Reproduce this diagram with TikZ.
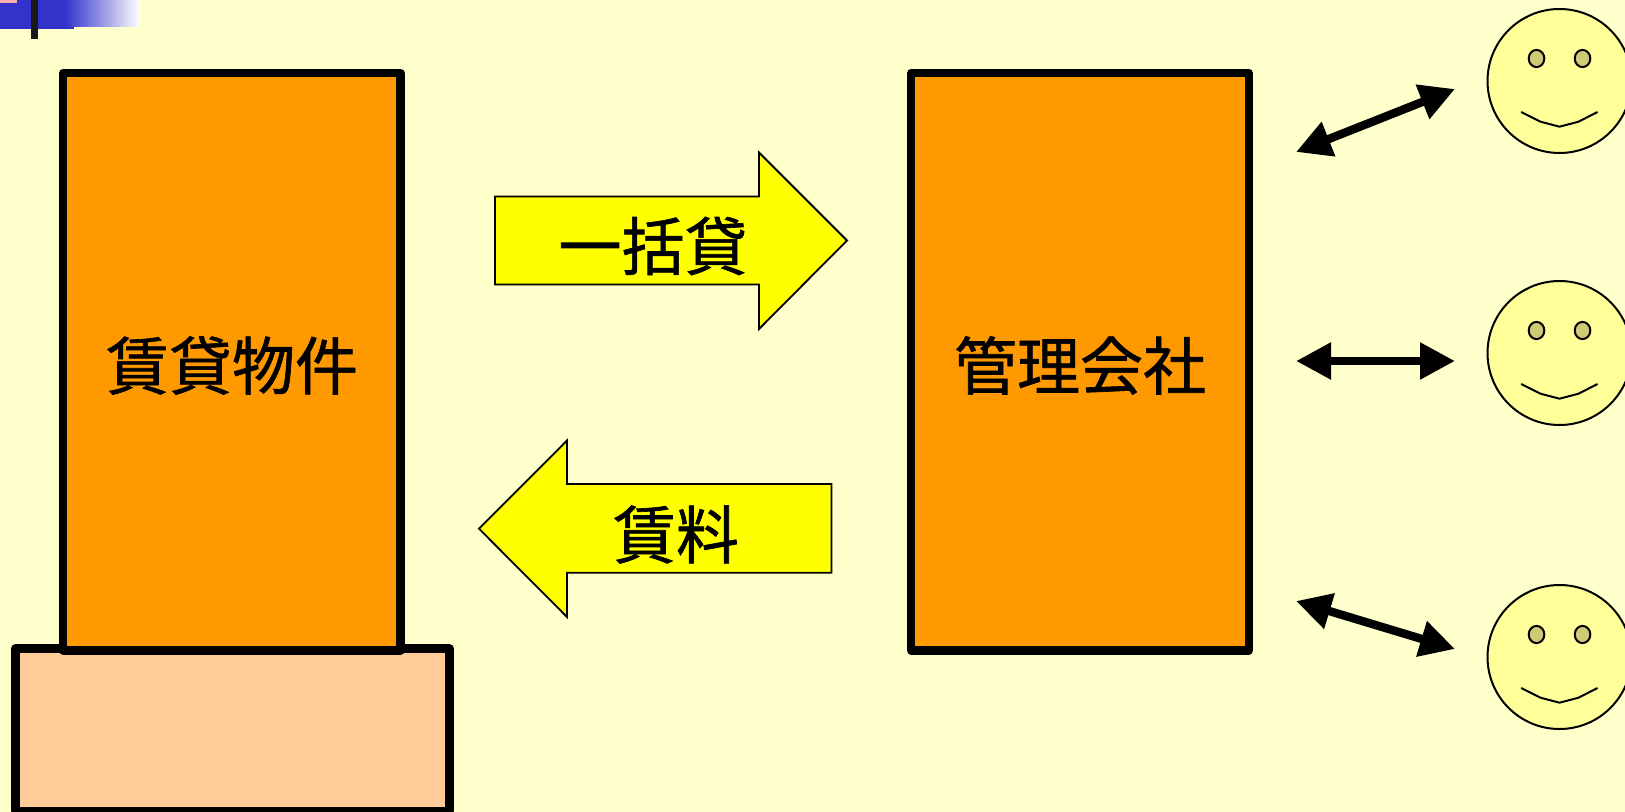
\documentclass[tikz,border=0pt]{standalone}
\usepackage{fontspec}
\setmainfont{Noto Sans CJK JP}[FakeBold=1]
\usetikzlibrary{arrows.meta,shapes.geometric}
\definecolor{pagebg}{HTML}{FFFFCC}
\definecolor{boxorange}{HTML}{FF9900}
\definecolor{basepeach}{HTML}{FFCC99}
\definecolor{arrowyellow}{HTML}{FFFF00}
\definecolor{facefill}{HTML}{FFFF99}
\definecolor{eyefill}{HTML}{CCCC77}
\definecolor{tabblue}{HTML}{3333CC}
\tikzset{
    bigbox/.style={draw, line width=4.1pt, line join=round, fill=boxorange, inner sep=0pt},
    blockarrow/.style={draw=black, line width=.9pt, fill=arrowyellow},
    arrowlabel/.style={font=\fontsize{31.5}{36}\selectfont, inner sep=0pt},
    tenantarrow/.style={{Triangle[length=17.5pt,width=17.5pt]}-{Triangle[length=17.5pt,width=17.5pt]}, line width=4.2pt},
    faceline/.style={draw=black, line width=1pt}
}
\begin{document}
\begin{tikzpicture}[x=.5pt,y=-.5pt]
    \clip (0,0) rectangle (1625,812);
    \fill[pagebg] (0,0) rectangle (1625,812);

    % corner tab
    \fill[tabblue] (0,0) rectangle (74,29);
    \shade[left color=tabblue, right color=white] (65,0) rectangle (140,27);
    \fill[pink!90!red] (0,0) rectangle (17,3);
    \fill[black!90] (31,0) rectangle (38,39);

    % building and company
    \node [bigbox, fill=basepeach, minimum width=217pt, minimum height=81.2pt] (base) at (232.5,729.7){};
    \node [bigbox, minimum width=168.7pt, minimum height=288.7pt] (building) at (231.8,361.7){};
    \node [bigbox, minimum width=168.7pt, minimum height=288.7pt] (company) at (1080,361.7){};
    \node [arrowlabel] (buildinglabel) at (232,365.5) {賃貸物件};
    \node [arrowlabel] (companylabel) at (1080,365.5) {管理会社};

    % block arrows
    \draw[blockarrow] (495,196.5)--(759,196.5)--(759,152.5)--(847,240.5)--(759,329)--(759,284.5)--(495,284.5)--cycle;
    \draw[blockarrow] (831.5,484)--(567,484)--(567,440.5)--(479,528.7)--(567,617)--(567,572.7)--(831.5,572.7)--cycle;
    \node [arrowlabel] (lease) at (653,246) {一括貸};
    \node [arrowlabel] (rent) at (676,534.5) {賃料};

    % tenants
    \foreach \name/\y in {faceA/81, faceB/353, faceC/657}{
        \begin{scope}[shift={(1559.5,\y)}]
            \node [faceline, circle, fill=facefill, minimum size=72pt, inner sep=0pt] (\name) at (0,0){};
            \node [faceline, ellipse, fill=eyefill, minimum width=7.8pt, minimum height=8.6pt, inner sep=0pt] (\name L) at (-23,-22.5){};
            \node [faceline, ellipse, fill=eyefill, minimum width=7.8pt, minimum height=8.6pt, inner sep=0pt] (\name R) at (23,-22.5){};
            \draw[faceline] (-38.3,31)--(-19,40.7)--(0,45.7)--(19,40.7)--(38,31);
        \end{scope}
    }

    % links to tenants
    \coordinate (linkAfrom) at (1296,152);
    \coordinate (linkAto) at (1455,89);
    \coordinate (linkBfrom) at (1296,361);
    \coordinate (linkBto) at (1455,361);
    \coordinate (linkCfrom) at (1296,601);
    \coordinate (linkCto) at (1455,649);
    \draw[tenantarrow] (linkAfrom)--(linkAto);
    \draw[tenantarrow] (linkBfrom)--(linkBto);
    \draw[tenantarrow] (linkCfrom)--(linkCto);
\end{tikzpicture}
\end{document}
